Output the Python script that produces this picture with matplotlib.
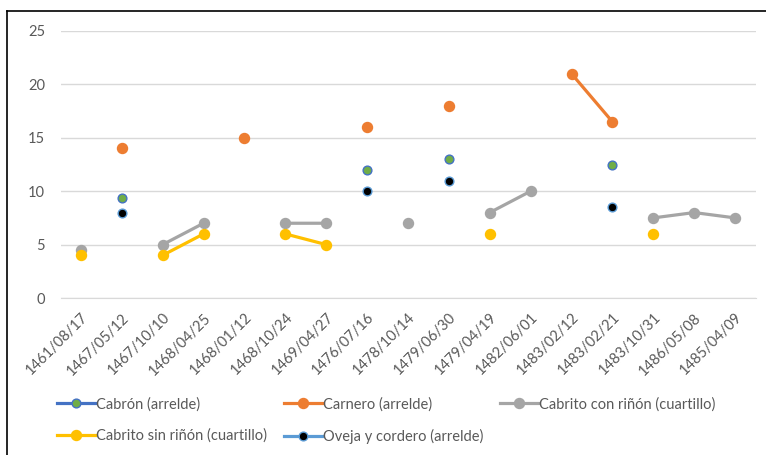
import numpy as np
import matplotlib
matplotlib.use("Agg")
import matplotlib.pyplot as plt
from matplotlib import font_manager
from matplotlib.lines import Line2D

nan = np.nan

fechas = ["1461/08/17", "1467/05/12", "1467/10/10", "1468/04/25", "1468/01/12",
          "1468/10/24", "1469/04/27", "1476/07/16", "1478/10/14", "1479/06/30",
          "1479/04/19", "1482/06/01", "1483/02/12", "1483/02/21", "1483/10/31",
          "1486/05/08", "1485/04/09"]

cabron = [nan, 9.4, nan, nan, nan, nan, nan, 12, nan, 13, nan, nan, nan, 12.5, nan, nan, nan]
carnero = [nan, 14, nan, nan, 15, nan, nan, 16, nan, 18, nan, nan, 21, 16.5, nan, nan, nan]
cabrito_con = [4.5, nan, 5, 7, nan, 7, 7, nan, 7, nan, 8, 10, nan, nan, 7.5, 8, 7.5]
cabrito_sin = [4, nan, 4, 6, nan, 6, 5, nan, nan, nan, 6, nan, nan, nan, 6, nan, nan]
oveja = [nan, 8, nan, nan, nan, nan, nan, 10, nan, 11, nan, nan, nan, 8.5, nan, nan, nan]

# Lato is close to Calibri in shape
nombres = {f.name for f in font_manager.fontManager.ttflist}
fuente = "Lato" if "Lato" in nombres else "DejaVu Sans"
plt.rcParams["font.family"] = [fuente, "DejaVu Sans"]
fs = 10.5

fig = plt.figure(figsize=(7.66, 4.55), dpi=100)
ax = fig.add_axes([60.5 / 766, 1 - 298 / 455, 695 / 766, 267 / 455])

x = np.arange(len(fechas))
gris_txt = "#595959"

series = [
    ("Cabrón (arrelde)", cabron, "#4472C4", "#70AD47", "#4472C4", 6.3),
    ("Carnero (arrelde)", carnero, "#ED7D31", "#ED7D31", "#ED7D31", 7.2),
    ("Cabrito con riñón (cuartillo)", cabrito_con, "#A5A5A5", "#A5A5A5", "#A5A5A5", 7.2),
    ("Cabrito sin riñón (cuartillo)", cabrito_sin, "#FFC000", "#FFC000", "#FFC000", 7.2),
    ("Oveja y cordero (arrelde)", oveja, "#5B9BD5", "black", "#5B9BD5", 6.3),
]

handles = []
for nombre, vals, col, fill, edge, ms in series:
    ax.plot(x, vals, color=col, lw=2.3, marker="o", ms=ms, mfc=fill, mec=edge,
            mew=1.0, solid_capstyle="round", zorder=3)
    handles.append(Line2D([0], [0], color=col, lw=2.3, marker="o", ms=ms,
                          mfc=fill, mec=edge, mew=1.0, label=nombre))

ax.set_xlim(-0.5, len(fechas) - 0.5)
ax.set_ylim(0, 25)
ax.set_yticks(range(0, 26, 5))
ax.yaxis.grid(True, color="#D9D9D9", lw=1.0)
ax.set_axisbelow(True)
for s in ax.spines.values():
    s.set_visible(False)
ax.spines["bottom"].set_visible(True)
ax.spines["bottom"].set_color("#D9D9D9")
ax.tick_params(axis="both", length=0, colors=gris_txt, labelsize=fs)
ax.tick_params(axis="y", pad=11)
ax.set_xticks(x)
ax.set_xticklabels(fechas, rotation=45, ha="right", rotation_mode="anchor")
ax.tick_params(axis="x", pad=9)

# legend filled row by row: reorder for matplotlib's column filling
orden = [0, 3, 1, 4, 2]
fig.legend(handles=[handles[i] for i in orden], loc="upper left",
           bbox_to_anchor=(57 / 766, 1 - 397 / 455), ncol=3, frameon=False,
           fontsize=fs, handlelength=2.6, handletextpad=0.08, columnspacing=1.15,
           labelspacing=1.2, borderpad=0, borderaxespad=0, labelcolor=gris_txt)

# frame lines along the top and left edge
fig.add_artist(Line2D([7 / 766, 1], [1 - 11 / 455] * 2, color="black", lw=1.2))
fig.add_artist(Line2D([7 / 766] * 2, [0, 1 - 11 / 455], color="black", lw=1.2))

fig.savefig("out.png", dpi=100)
